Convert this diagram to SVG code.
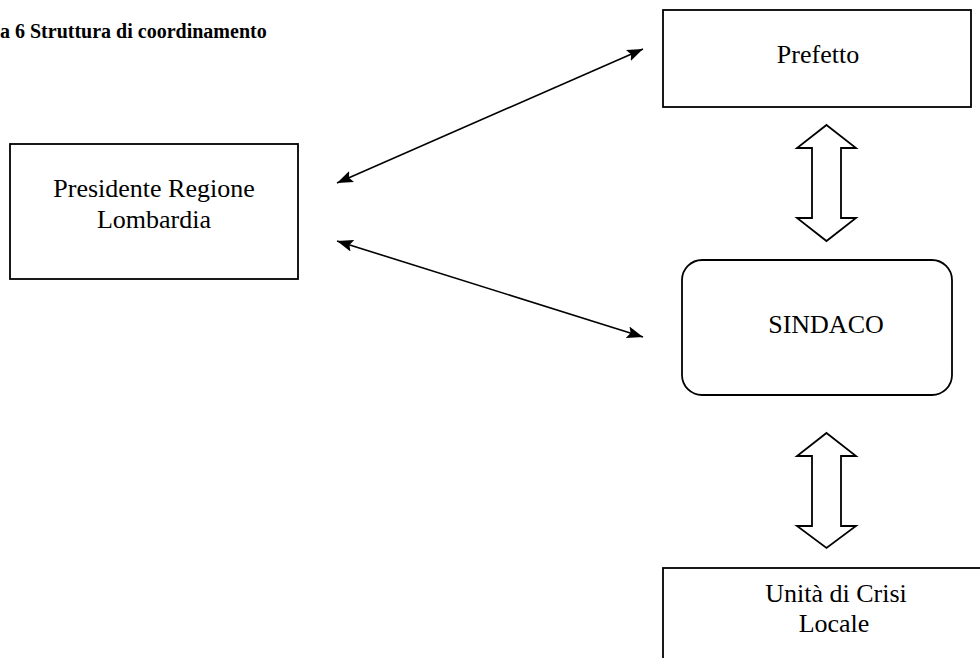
<svg xmlns="http://www.w3.org/2000/svg" width="980" height="658" viewBox="0 0 980 658">
<style>
.box{fill:#fff;stroke:#000;stroke-width:1.8}
.lbl{font-family:"Liberation Serif","Times New Roman",serif;font-size:26px;fill:#000;text-anchor:middle}
.title{font-family:"Liberation Serif","Times New Roman",serif;font-size:20px;font-weight:bold;fill:#000}
.conn{stroke:#000;stroke-width:1.6;fill:none;marker-start:url(#ah);marker-end:url(#ah)}
.block{fill:#fff;stroke:#000;stroke-width:1.8;stroke-linejoin:miter}
</style>
<defs>
<marker id="ah" viewBox="0 0 16 12" refX="16" refY="6" markerWidth="16" markerHeight="12" markerUnits="userSpaceOnUse" orient="auto-start-reverse">
<path d="M0,0 L16,6 L0,12 L3,6 z" fill="#000"/>
</marker>
</defs>
<rect width="980" height="658" fill="#fff"/>
<text class="title" x="0" y="38">a 6 Struttura di coordinamento</text>
<g id="connectors">
<line class="conn" x1="337" y1="183" x2="643" y2="49"/>
<line class="conn" x1="337" y1="241" x2="643" y2="337"/>
<path class="block" d="M826.5,125 L856,148 L841,148 L841,218 L856,218 L826.5,241 L797,218 L812,218 L812,148 L797,148 Z"/>
<path class="block" d="M826.5,433 L856,456 L841,456 L841,526 L856,526 L826.5,548 L797,526 L812,526 L812,456 L797,456 Z"/>
</g>
<g id="prefetto">
<rect class="box" x="663" y="10" width="308" height="97"/>
<text class="lbl" x="818" y="63">Prefetto</text>
</g>
<g id="presidente">
<rect class="box" x="10" y="144" width="288" height="135"/>
<text class="lbl" x="154" y="197">Presidente Regione</text>
<text class="lbl" x="154" y="228">Lombardia</text>
</g>
<g id="sindaco">
<rect class="box" x="682" y="260" width="270" height="135" rx="20" ry="20"/>
<text class="lbl" x="826" y="333">SINDACO</text>
</g>
<g id="unita">
<rect class="box" x="663" y="568" width="350" height="120"/>
<text class="lbl" x="836" y="602">Unità di Crisi</text>
<text class="lbl" x="834" y="632">Locale</text>
</g>
</svg>
